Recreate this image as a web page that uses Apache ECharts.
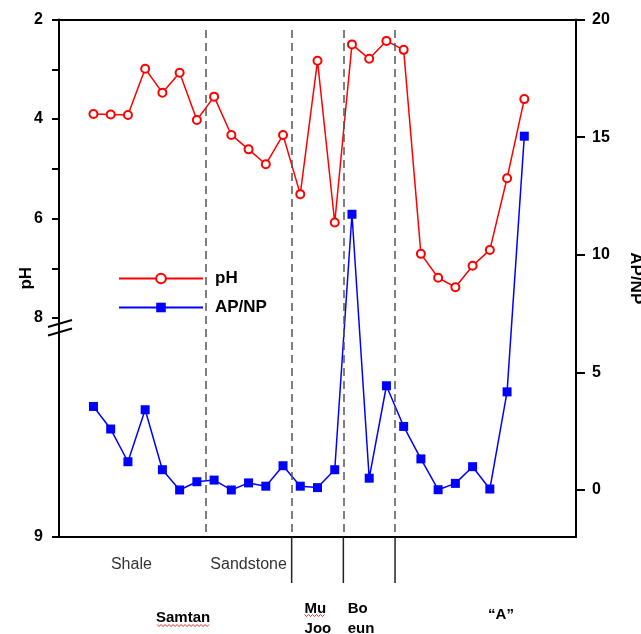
<!DOCTYPE html>
<html><head><meta charset="utf-8">
<script src="https://cdn.jsdelivr.net/npm/echarts@6/dist/echarts.min.js"></script>
<style>html,body{margin:0;padding:0;background:#fff}#c{width:641px;height:634px}</style>
</head><body><div id="c"></div>
<script>
// ---- data ----
const samples = [1,2,3,4,5,6,7,8,9,10,11,12,13,14,15,16,17,18,19,20,21,22,23,24,25,26];
const phValues = [3.90,3.91,3.92,2.99,3.47,3.07,4.02,3.55,4.32,4.61,4.91,4.32,5.51,2.83,6.08,2.50,2.79,2.43,2.61,6.71,7.19,7.38,6.95,6.63,5.19,3.60];
const apnpValues = [3.55,2.59,1.20,3.41,0.86,0.00,0.35,0.42,0.00,0.30,0.16,1.03,0.16,0.10,0.86,11.72,0.50,4.43,2.70,1.32,0.01,0.28,0.99,0.04,4.17,15.04];
const phTickValues = [2,3,4,5,6,7,8];
const phLabelValues = [2,4,6,8];
const phBreakLabel = '9';
const apnpTickValues = [0,5,10,15,20];
const lithologyBoundaries = [7.5,12.5,15.5,18.5];
const formationBoundaries = [12.5,15.5,18.5];
const lithologyLabels = ['Shale','Sandstone'];
const formationLabels = ['Samtan','Mu\nJoo','Bo\neun','\u201cA\u201d'];

// ---- layout ----
const PH_AXIS_MAX = 12.4;   // bottom of broken pH axis (labelled 9)
const APNP_MIN = -2, APNP_MAX = 20;
const X_MIN = -1, X_MAX = 29;
const FONT = '"Liberation Sans", Arial, Helvetica, sans-serif';
const lithologyPos = [3.2, 10];
const formationPos = [{x:6.2, align:'center', dy:81},{x:13.25, align:'left', dy:82},{x:15.75, align:'left', dy:82},{x:24.65, align:'center', dy:78}];

const chart = echarts.init(document.getElementById('c'), null, {renderer:'canvas'});
const axisLineStyle = {color:'#000', width:2};
const xAxisBase = {type:'value', min:X_MIN, max:X_MAX, axisLine:{show:true, onZero:false, lineStyle:axisLineStyle},
  axisTick:{show:false}, axisLabel:{show:false}, splitLine:{show:false}};
const option = {
  animation:false,
  backgroundColor:'#fff',
  grid:{left:59, right:65, top:19.5, bottom:97, containLabel:false, outerBoundsMode:'none'},
  legend:{orient:'vertical', left:113, top:265, itemWidth:84, itemHeight:12, itemGap:12,
    textStyle:{fontFamily:FONT, fontWeight:'bold', fontSize:17, color:'#000', padding:[0,0,0,7]},
    data:['pH','AP/NP']},
  xAxis:[Object.assign({position:'bottom'}, xAxisBase), Object.assign({position:'top'}, xAxisBase)],
  yAxis:[
    {type:'value', inverse:true, min:2, max:PH_AXIS_MAX, position:'left',
     name:'pH', nameLocation:'middle', nameGap:24, nameRotate:90, nameMoveOverlap:false,
     nameTextStyle:{fontFamily:FONT, fontWeight:'bold', fontSize:17, color:'#000'},
     axisLine:{show:true, onZero:false, lineStyle:axisLineStyle},
     axisTick:{show:true, inside:false, length:7, lineStyle:axisLineStyle, customValues:phTickValues.concat([PH_AXIS_MAX])},
     axisLabel:{customValues:phLabelValues.concat([PH_AXIS_MAX]), margin:16,
       formatter:v => (Math.abs(v-PH_AXIS_MAX)<1e-6 ? phBreakLabel : String(v)),
       fontFamily:FONT, fontWeight:'bold', fontSize:16, color:'#000'},
     splitLine:{show:false}},
    {type:'value', min:APNP_MIN, max:APNP_MAX, position:'right',
     name:'AP/NP', nameLocation:'middle', nameGap:51, nameRotate:-90, nameMoveOverlap:false,
     nameTextStyle:{fontFamily:FONT, fontWeight:'bold', fontSize:17, color:'#000'},
     axisLine:{show:true, onZero:false, lineStyle:axisLineStyle},
     axisTick:{show:true, inside:false, length:9, lineStyle:axisLineStyle, customValues:apnpTickValues},
     axisLabel:{customValues:apnpTickValues, margin:16, fontFamily:FONT, fontWeight:'bold', fontSize:16, color:'#000'},
     splitLine:{show:false}}
  ],
  series:[
    {name:'AP/NP', type:'line', xAxisIndex:0, yAxisIndex:1,
     data:samples.map((s,i)=>[s, apnpValues[i]]),
     symbol:'rect', symbolSize:9, lineStyle:{color:'#0000ff', width:1.5},
     itemStyle:{color:'#0000ff'}, z:3,
     markLine:{silent:true, symbol:'none', label:{show:false}, animation:false,
       lineStyle:{color:'#555', type:[8,5], width:1.5},
       data:lithologyBoundaries.map(b=>[{coord:[b, 19.55]},{coord:[b, APNP_MIN]}])}},
    {name:'pH', type:'line', xAxisIndex:0, yAxisIndex:0,
     data:samples.map((s,i)=>[s, phValues[i]]),
     symbol:'emptyCircle', symbolSize:8, lineStyle:{color:'#ff0000', width:1.5},
     itemStyle:{color:'#ff0000', borderColor:'#ff0000', borderWidth:2}, z:4}
  ]
};
chart.setOption(option);

// ---- decorations: axis break, formation ticks, labels ----
const px = v => chart.convertToPixel({xAxisIndex:0}, v);
const pyPh = v => chart.convertToPixel({yAxisIndex:0}, v);
const yBottom = chart.convertToPixel({yAxisIndex:1}, APNP_MIN);
const xLeft = px(X_MIN);
const g = [];
[8.11, 8.28].forEach(v => {
  const y = pyPh(v);
  g.push({type:'line', shape:{x1:xLeft-11, y1:y+3.5, x2:xLeft+13, y2:y-3.5}, style:{stroke:'#000', lineWidth:2}, z:10});
});
formationBoundaries.forEach(b => {
  const x = px(b);
  g.push({type:'line', shape:{x1:x, y1:yBottom, x2:x, y2:yBottom+46}, style:{stroke:'#222', lineWidth:1.5}, z:10});
});
lithologyLabels.forEach((t,i) => {
  g.push({type:'text', x:px(lithologyPos[i]), y:yBottom+28, style:{text:t, fill:'#333', font:'16px '+FONT, align:'center', verticalAlign:'middle'}, z:10});
});
formationLabels.forEach((t,i) => {
  const p = formationPos[i];
  g.push({type:'text', x:px(p.x), y:yBottom+p.dy, style:{text:t, fill:'#000', font:'bold 15px '+FONT, align:p.align, verticalAlign:'middle', lineHeight:20}, z:10});
});
// red spell-check squiggles
function squiggle(xc, y, w) {
  const pts = []; const x0 = xc - w/2;
  for (let k=0; k<=Math.round(w/2); k++) pts.push([x0 + k*2, y + (k%2 ? 1.5 : -0.5)]);
  g.push({type:'polyline', shape:{points:pts}, style:{stroke:'#e03030', lineWidth:1, fill:null}, z:11});
}
squiggle(px(6.2), yBottom+88, 52);
squiggle(px(13.25)+10, yBottom+78, 20);
chart.setOption({graphic:g});
</script>
</body></html>
